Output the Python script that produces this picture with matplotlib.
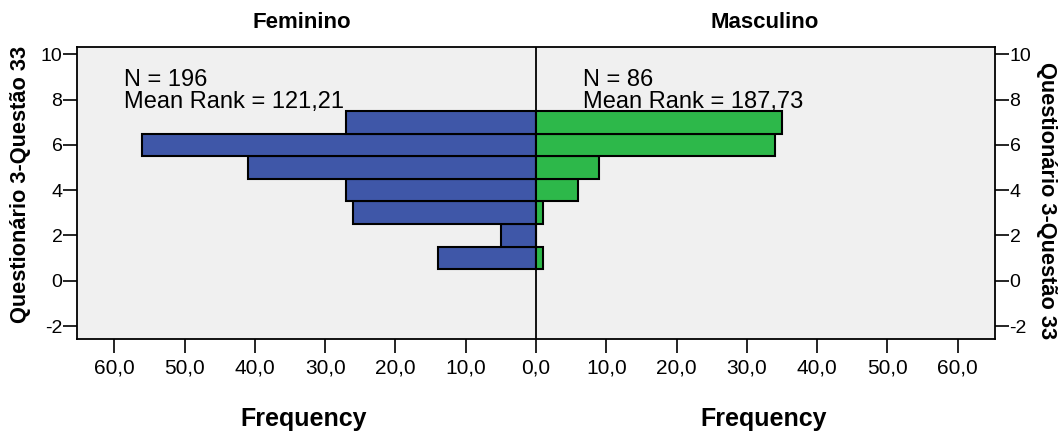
import matplotlib.pyplot as plt
from matplotlib.ticker import FuncFormatter

plt.rcParams['font.family'] = ['Liberation Sans', 'DejaVu Sans']
plt.rcParams['axes.unicode_minus'] = False

# answer values (y) and counts per group
scores = [1, 2, 3, 4, 5, 6, 7]
feminino = [14, 5, 26, 27, 41, 56, 27]
masculino = [1, 0, 1, 6, 9, 34, 35]
freq_ticks = [-60, -50, -40, -30, -20, -10, 0, 10, 20, 30, 40, 50, 60]
score_ticks = [-2, 0, 2, 4, 6, 8, 10]
fem_text = 'N = 196\nMean Rank = 121,21'
masc_text = 'N = 86\nMean Rank = 187,73'
y_title = 'Questionário 3-Questão 33'

blue = '#3f57a8'
green = '#2db84a'

W, H = 1063, 440
fig = plt.figure(figsize=(W / 100, H / 100), dpi=100)
ax = fig.add_axes([77 / W, 1 - 339 / H, (995 - 77) / W, (339 - 47) / H])
ax.set_facecolor('#f0f0f0')

ax.barh(scores, [-v for v in feminino], height=1.0, color=blue, edgecolor='black', linewidth=1.5)
ax.barh(scores, masculino, height=1.0, color=green, edgecolor='black', linewidth=1.5)
ax.axvline(0, color='black', linewidth=1.3)

ax.set_xlim(-65.3, 65.3)
ax.set_ylim(-2.57, 10.32)
ax.set_xticks(freq_ticks)
ax.xaxis.set_major_formatter(FuncFormatter(lambda v, p: ('%.1f' % abs(v)).replace('.', ',')))
ax.set_yticks(score_ticks)
ax.tick_params(axis='x', direction='out', length=10, width=1.2, labelsize=15, pad=4)
ax.tick_params(axis='y', direction='out', length=10, width=1.2, labelsize=14, pad=0.5,
               left=True, right=True, labelleft=True, labelright=True)
for s in ax.spines.values():
    s.set_linewidth(1.3)

ax.text(-58.6, 9.35, fem_text, fontsize=17, va='top', ha='left', linespacing=1.0)
ax.text(6.7, 9.35, masc_text, fontsize=17, va='top', ha='left', linespacing=1.0)

fig.text(21 / W, 1 - 184 / H, y_title, fontsize=15.7, fontweight='bold', rotation=90,
         ha='center', va='center')
fig.text(1046 / W, 1 - 201 / H, y_title, fontsize=15.7, fontweight='bold', rotation=-90,
         ha='center', va='center')
fig.text(302 / W, 1 - 22 / H, 'Feminino', fontsize=16, fontweight='bold', ha='center', va='center')
fig.text(765 / W, 1 - 22 / H, 'Masculino', fontsize=16, fontweight='bold', ha='center', va='center')
fig.text(304 / W, 1 - 419 / H, 'Frequency', fontsize=18, fontweight='bold', ha='center', va='center')
fig.text(764 / W, 1 - 419 / H, 'Frequency', fontsize=18, fontweight='bold', ha='center', va='center')

fig.savefig('out.png', dpi=100)
